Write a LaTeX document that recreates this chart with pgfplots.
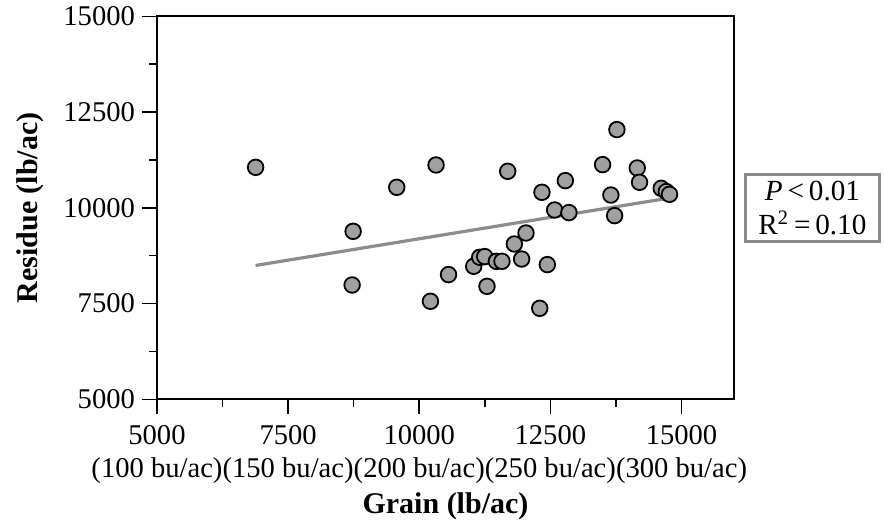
\documentclass[border=0pt]{standalone}
\usepackage{pgfplots}
\pgfplotsset{compat=1.18}
\usepackage{fontspec}
\setmainfont{Liberation Serif}
\definecolor{lgray}{HTML}{8C8C8C}
\definecolor{mfill}{HTML}{A0A0A0}
\begin{document}
\begin{tikzpicture}
\begin{axis}[
  scale only axis,
  width=288.5pt, height=191.5pt,
  xmin=5000, xmax=16000,
  ymin=5000, ymax=15000,
  scaled ticks=false,
  xtick={5000,7500,10000,12500,15000},
  xticklabels={5000\\(100 bu/ac),7500\\(150 bu/ac),10000\\(200 bu/ac),12500\\(250 bu/ac),15000\\(300 bu/ac)},
  ytick={5000,7500,10000,12500,15000},
  yticklabels={5000,7500,10000,12500,15000},
  minor tick num=1,
  tick pos=left,
  tick align=outside,
  major tick length=7.5pt,
  minor tick length=3.75pt,
  every tick/.style={black, line width=0.8pt},
  axis line style={line width=0.9pt},
  xticklabel style={align=center, font=\fontsize{14.3}{16.8}\selectfont, yshift=-2pt},
  yticklabel style={font=\fontsize{14.3}{16}\selectfont, xshift=0pt},
  xlabel={\textbf{Grain (lb/ac)}},
  ylabel={\textbf{Residue (lb/ac)}},
  label style={font=\fontsize{15}{17}\selectfont},
  xlabel style={yshift=2.5pt},
  ylabel style={yshift=3pt},
  clip=false,
]
\path (rel axis cs:-0.2721,-0.3159) rectangle (rel axis cs:1.2600,1.0366);
\addplot[lgray, line width=1.6pt] coordinates {(6880,8495) (14700,10240)};
\addplot[only marks, mark=*, mark size=3.9pt, mark options={fill=mfill, draw=black, line width=0.9pt}] coordinates {
(6880,11057) (8739,9386) (8720,7985) (9571,10535) (10320,11118) (10213,7559)
(10558,8256) (11038,8473) (11152,8708) (11248,8726) (11291,7950) (11470,8603)
(11577,8603) (11686,10953) (11813,9055) (11952,8663) (12035,9342) (12297,7376)
(12339,10405) (12442,8517) (12581,9943) (12785,10710) (12853,9875) (13495,11128)
(13653,10334) (13724,9796) (13768,12042) (14156,11040) (14200,10666)
(14613,10509) (14709,10423) (14771,10352)
};
\node[draw=lgray, line width=1.5pt, fill=white, align=center, inner sep=0pt,
  minimum width=67pt, minimum height=33.5pt,
  font=\fontsize{14.6}{17}\selectfont] at (rel axis cs:1.136,0.499)
  {\textit{P}\,<\,0.01\\R\textsuperscript{2}\,=\,0.10};
\end{axis}
\end{tikzpicture}
\end{document}
